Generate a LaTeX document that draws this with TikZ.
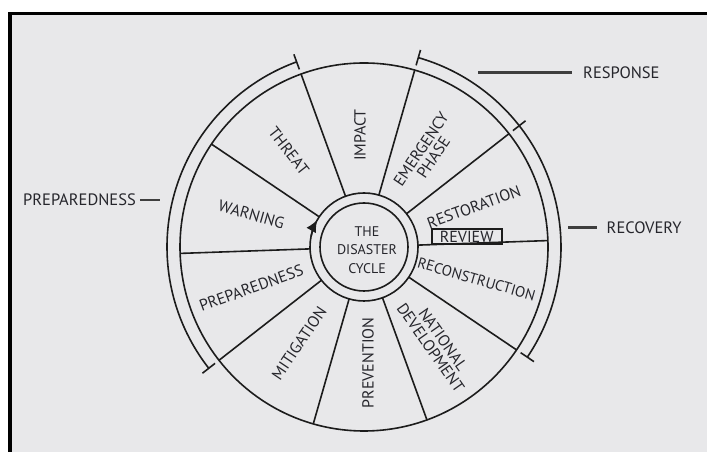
\documentclass[tikz,border=0pt]{standalone}
\usepackage{fontspec}
\setmainfont{PT Sans}
\usepackage{tikz}
\usetikzlibrary{arrows.meta, positioning}
\definecolor{paperGrey}{RGB}{232,232,234}
\definecolor{lineDark}{RGB}{28,28,28}
\definecolor{txtDark}{RGB}{38,38,44}

\begin{document}
\begin{tikzpicture}[
    x=1pt, y=1pt,
    wheel/.style={draw=lineDark, line width=1.6pt},
    seg/.style={font=\fontsize{16}{15}\selectfont, text=txtDark, inner sep=0pt, align=center},
    outlbl/.style={font=\fontsize{16.5}{18}\selectfont, text=txtDark, inner sep=0pt},
    bracket/.style={draw=lineDark, line width=1.6pt},
    leader/.style={draw=lineDark!85, line width=2.2pt},
    every node/.style={font=\fontsize{16}{18}\selectfont}
]
\useasboundingbox (0,0) rectangle (707,452);

% Background and frame
\fill[white] (0,0) rectangle (707,452);
\fill[paperGrey] (8,0) rectangle (707,440);
\fill[black] (8,436.5) rectangle (707,440);
\fill[black] (8,0) rectangle (12,440);

\begin{scope}[shift={(364,205)}]

% Wheel and hub
\draw[wheel] (0,0) circle (184);
\node[circle, wheel, minimum size=108, inner sep=0pt] (hub) at (0,0) {};
\draw[wheel] (0,0) circle (44);
\node[seg, font=\fontsize{14}{18.5}\selectfont] (title) at (3,-3) {THE\\DISASTER\\CYCLE};

% Spokes
\draw[wheel] (110:54) -- (110:184);
\draw[wheel] (74:54) -- (74:184);
\draw[wheel] (38:54) -- (38:184);
\draw[wheel] (2:54) -- (2:184);
\draw[wheel] (-34:54) -- (-34:184);
\draw[wheel] (-70:54) -- (-70:184);
\draw[wheel] (-106:54) -- (-106:184);
\draw[wheel] (-142:54) -- (-142:184);
\draw[wheel] (-178:54) -- (-178:184);
\draw[wheel] (146:54) -- (146:184);

% Direction of the cycle
\draw[wheel, -{Latex[length=12pt, width=11pt]}] (168:54) arc[start angle=168, end angle=150, radius=54];

% Phases of the cycle
\node[seg, rotate=-52] (threat) at (128:122) {THREAT};
\node[seg, rotate=90] (impact) at (92:112) {IMPACT};
\node[seg, rotate=56] (emerg) at (56:113) {EMERGENCY\\PHASE};
\node[seg, rotate=20] (restor) at (20:117) {RESTORATION};
\node[seg, draw=lineDark, line width=1.8pt, minimum width=70, minimum height=15, inner sep=1pt] (review) at (102.7,10.3) {REVIEW};
\node[seg, rotate=-16, font=\fontsize{15}{15}\selectfont] (recon) at (-16:117) {RECONSTRUCTION};
\node[seg, rotate=-55] (natdev) at (-53:121) {NATIONAL\\DEVELOPMENT};
\node[seg, rotate=90] (prevent) at (-88:116) {PREVENTION};
\node[seg, rotate=56] (mitig) at (-124:116) {MITIGATION};
\node[seg, rotate=20] (prepin) at (-160:120) {PREPAREDNESS};
\node[seg, rotate=-16] (warn) at (164:117) {WARNING};

% Outer brackets
\draw[bracket] (110:197) arc[start angle=110, end angle=218, radius=197];
\draw[bracket] (110:189) -- (110:205);
\draw[bracket] (218:189) -- (218:205);
\draw[bracket] (74:197) arc[start angle=74, end angle=38, radius=197];
\draw[bracket] (74:189) -- (74:205);
\draw[bracket] (38:189) -- (38:205);
\draw[bracket] (38:197) arc[start angle=38, end angle=-34, radius=197];
\draw[bracket] (-34:189) -- (-34:205);

\end{scope}

% Group labels
\node[outlbl, anchor=east] (prepout) at (136,252) {PREPAREDNESS};
\coordinate (prepend) at (160,252);
\draw[leader] (prepout.east) ++(4,0) -- (prepend);

\node[outlbl, anchor=west] (respout) at (583,379.5) {RESPONSE};
\coordinate (respend) at (478,379.5);
\draw[leader] (respend) -- ([xshift=-11]respout.west);

\node[outlbl, anchor=west] (recout) at (606.5,224.5) {RECOVERY};
\coordinate (recend) at (568,224.5);
\draw[leader] (recend) -- ([xshift=-10]recout.west);

\end{tikzpicture}
\end{document}
